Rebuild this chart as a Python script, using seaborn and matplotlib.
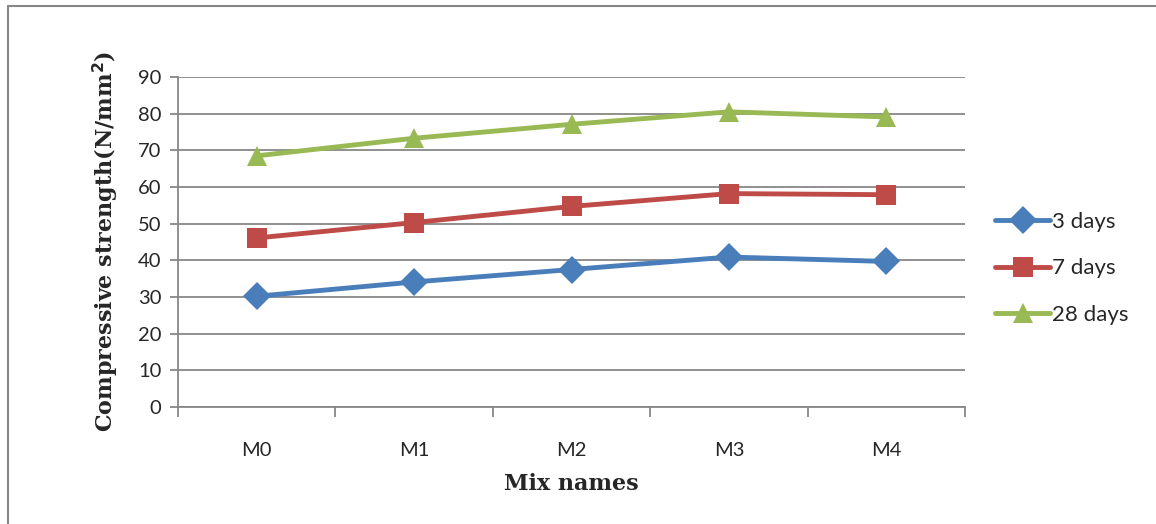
import pandas as pd
import matplotlib.pyplot as plt
import seaborn as sns
from matplotlib.lines import Line2D

# Values
mixes = ['M0', 'M1', 'M2', 'M3', 'M4']
days_3 = [30.2, 34.1, 37.5, 40.9, 39.7]
days_7 = [46.1, 50.3, 54.7, 58.2, 57.9]
days_28 = [68.5, 73.3, 77.1, 80.5, 79.1]
series_names = ['3 days', '7 days', '28 days']
y_ticks = list(range(0, 100, 10))

colors = ['#4A7EBB', '#BE4B48', '#98B954']
markers = ['D', 's', '^']
grey = '#878787'


def main():
    # Build long-form dataframe for seaborn
    rows = []
    for name, vals in zip(series_names, [days_3, days_7, days_28]):
        for i, v in enumerate(vals):
            rows.append({'pos': i, 'Mix': mixes[i], 'Age': name, 'Strength': v})
    df = pd.DataFrame(rows)

    sns.set_style('white')
    fig = plt.figure(figsize=(11.56, 5.24), dpi=100)
    ax = fig.add_axes([178 / 1156, 1 - 407 / 524, (965 - 178) / 1156, (407 - 77) / 524])

    sns.lineplot(data=df, x='pos', y='Strength', hue='Age', style='Age',
                 hue_order=series_names, style_order=series_names,
                 palette=colors, markers=markers, dashes=False,
                 linewidth=3.5, markersize=14, markeredgewidth=0, ax=ax)

    ax.set_xlim(-0.5, len(mixes) - 0.5)
    ax.set_ylim(0, 90)
    ax.set_yticks(y_ticks)
    ax.set_yticklabels([str(t) for t in y_ticks], fontsize=14.5, family='Lato')
    ax.yaxis.grid(True, color=grey, linewidth=1.3)
    ax.set_axisbelow(True)

    # Excel style category axis: ticks between categories, labels centred
    ax.set_xticks([i - 0.5 for i in range(len(mixes) + 1)])
    ax.set_xticklabels([])
    ax.set_xticks(range(len(mixes)), minor=True)
    ax.set_xticklabels(mixes, minor=True, fontsize=14.5, family='Lato')
    ax.tick_params(axis='x', which='major', bottom=True, length=7, width=1.3,
                   color=grey, direction='out')
    ax.tick_params(axis='x', which='minor', bottom=True, length=0, pad=25)
    ax.tick_params(axis='y', left=True, length=6, width=1.3, color=grey,
                   direction='out', pad=6)

    for side in ['top', 'right']:
        ax.spines[side].set_visible(False)
    for side in ['left', 'bottom']:
        ax.spines[side].set_color(grey)
        ax.spines[side].set_linewidth(1.3)

    ax.set_xlabel('Mix names', fontsize=16, fontweight='bold', family='DejaVu Serif', labelpad=10)
    ax.set_ylabel('Compressive strength(N/mm$^\\mathbf{2}$)', fontsize=16, fontweight='bold',
                  family='DejaVu Serif', labelpad=12)

    ax.legend(title=None, loc='center left', bbox_to_anchor=(1.038, 0.42), frameon=False,
              borderaxespad=0, borderpad=0,
              handlelength=2.5, handletextpad=0.05, labelspacing=1.2,
              prop={'family': 'Lato', 'size': 16})

    # Chart area border (only left and top edges show in the picture)
    fig.add_artist(Line2D([8 / 1156, 8 / 1156], [0, 1 - 6 / 524], transform=fig.transFigure,
                          color=grey, linewidth=1.5))
    fig.add_artist(Line2D([8 / 1156, 1], [1 - 6 / 524, 1 - 6 / 524], transform=fig.transFigure,
                          color=grey, linewidth=1.5))

    fig.savefig('out.png', dpi=100)


if __name__ == '__main__':
    main()
